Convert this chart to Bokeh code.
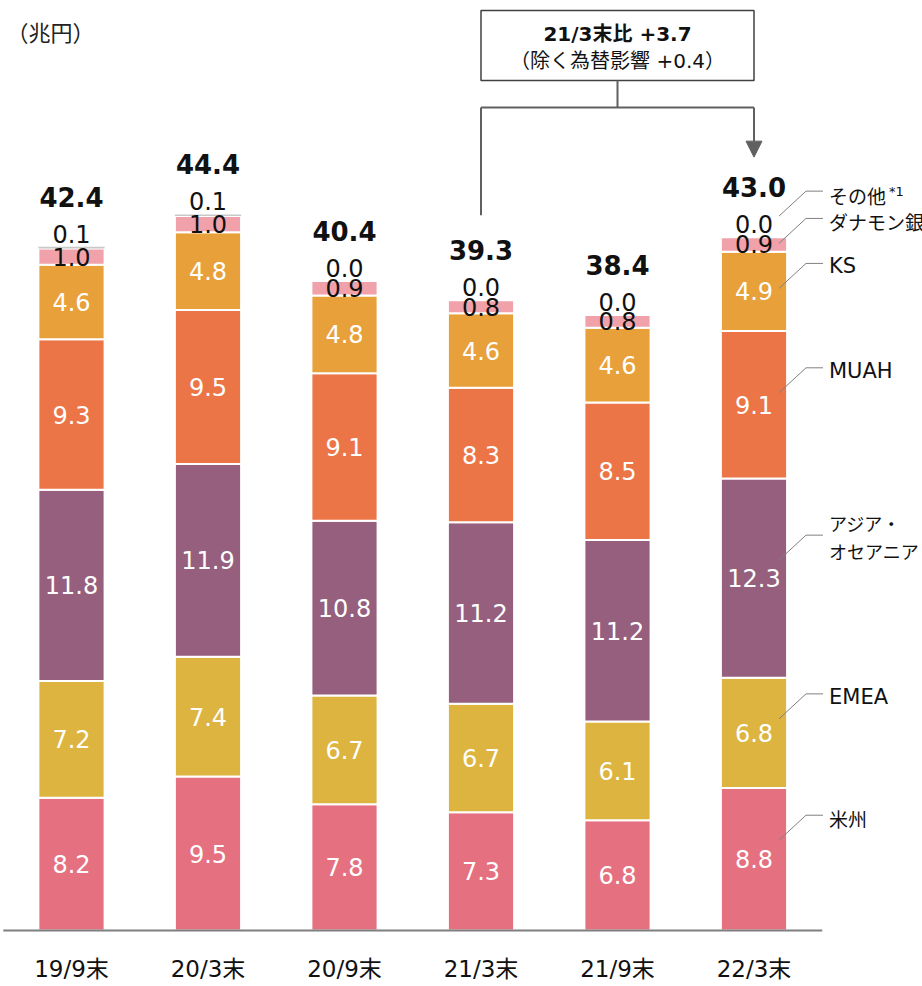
from bokeh.plotting import figure
from bokeh.models import Range1d, Arrow, NormalHead
from bokeh.core.properties import value
from bokeh.embed import file_html
from bokeh.resources import INLINE

# ---------------- data ----------------
categories = ["19/9末", "20/3末", "20/9末", "21/3末", "21/9末", "22/3末"]
americas = [8.2, 9.5, 7.8, 7.3, 6.8, 8.8]
emea = [7.2, 7.4, 6.7, 6.7, 6.1, 6.8]
asia = [11.8, 11.9, 10.8, 11.2, 11.2, 12.3]
muah = [9.3, 9.5, 9.1, 8.3, 8.5, 9.1]
ks = [4.6, 4.8, 4.8, 4.6, 4.6, 4.9]
danamon = [1.0, 1.0, 0.9, 0.8, 0.8, 0.9]
other = [0.1, 0.1, 0.0, 0.0, 0.0, 0.0]
totals = [42.4, 44.4, 40.4, 39.3, 38.4, 43.0]
series_names = ["米州", "EMEA", "アジア・\nオセアニア", "MUAH", "KS", "ダナモン銀行", "その他"]
fx_excluded_change = 0.4
unit_label = "（兆円）"

series = [americas, emea, asia, muah, ks, danamon, other]
colors = ["#E57080", "#DDB440", "#955F7D", "#EC7547", "#E8A03A", "#F0A1AA", "#C8C8C8"]

# ---------------- layout helpers ----------------
W, H = 922, 986
UX = 136.5            # px per category unit
UY = 16.2             # px per 1 trillion yen
X0_PX, Y0_PX = 71, 930
def dy(px):
    return px / UY
def dx(px):
    return px / UX
def y_from_top(px):
    return (Y0_PX - px) / UY

p = figure(width=W, height=H, output_backend="svg", toolbar_location=None,
           x_range=Range1d(-X0_PX / UX, (W - X0_PX) / UX),
           y_range=Range1d(-(H - Y0_PX) / UY, Y0_PX / UY),
           min_border=0, outline_line_color=None, background_fill_color="white")
p.axis.visible = False
p.grid.visible = False

xs = list(range(len(categories)))
NUM_FONT = value("DejaVu Sans")
JP_FONT = value("Noto Sans CJK JP")
MIX_FONT = value("DejaVu Sans, Noto Sans CJK JP")
BAR_W = 0.485

# stacked bars
bottoms = [0.0] * len(xs)
seg_info = []
for si, (vals, col) in enumerate(zip(series, colors)):
    tops = [b + v for b, v in zip(bottoms, vals)]
    if si == len(series) - 1:
        p.vbar(x=xs, bottom=bottoms, top=tops, width=BAR_W, fill_color=col, line_color=None)
    else:
        p.vbar(x=xs, bottom=bottoms, top=tops, width=BAR_W, fill_color=col,
               line_color="white", line_width=2)
    seg_info.append((list(bottoms), tops))
    bottoms = tops
stack_top = bottoms

# segment labels
for si, vals in enumerate(series[:5]):
    b, t = seg_info[si]
    p.text(x=xs, y=[(bb + tt) / 2 for bb, tt in zip(b, t)], text=[f"{v:.1f}" for v in vals],
           text_color="white", text_font=NUM_FONT, text_font_size="24px",
           text_align="center", text_baseline="middle")
b, t = seg_info[5]
p.text(x=xs, y=[(bb + tt) / 2 for bb, tt in zip(b, t)], text=[f"{v:.1f}" for v in danamon],
       text_color="#111111", text_font=NUM_FONT, text_font_size="24px",
       text_align="center", text_baseline="middle")
p.text(x=xs, y=stack_top, y_offset=-13, text=[f"{v:.1f}" for v in other],
       text_color="#111111", text_font=NUM_FONT, text_font_size="24px",
       text_align="center", text_baseline="middle")
p.text(x=xs, y=stack_top, y_offset=-50, text=[f"{v:.1f}" for v in totals],
       text_color="#111111", text_font=NUM_FONT, text_font_size="26px", text_font_style="bold",
       text_align="center", text_baseline="middle")

# baseline axis
p.segment(x0=[-0.5], y0=[0], x1=[len(xs) - 0.5], y1=[0], line_color="#7F7F7F", line_width=2)

# category labels
p.text(x=xs, y=[0] * len(xs), y_offset=38, text=categories, text_color="#111111",
       text_font=MIX_FONT, text_font_size="23px", text_align="center", text_baseline="middle")

# unit label
p.text(x=[dx(6 - X0_PX)], y=[y_from_top(30)], text=[unit_label], text_color="#222222",
       text_font=JP_FONT, text_font_size="22px", text_align="left", text_baseline="middle")

# right-side series labels with leader lines (for the last bar)
li = len(xs) - 1
start_off_px = [19, 14, 18, 12, 3, 1, 21]
lx, ly = [], []
for si in range(len(series)):
    b, t = seg_info[si]
    if si == len(series) - 1:
        anchor = stack_top[li]
    else:
        anchor = (b[li] + t[li]) / 2
    y_start = anchor + dy(start_off_px[si])
    y_elbow = y_start + dy(25)
    lx.append([li + dx(25), li + dx(52), li + dx(69)])
    ly.append([y_start, y_elbow, y_elbow])
    name = series_names[si]
    tx = li + dx(75)
    is_latin = name.isascii()
    font = NUM_FONT if is_latin else JP_FONT
    size = "21px" if is_latin else "19px"
    if "\n" in name:
        l1, l2 = name.split("\n")
        p.text(x=[tx], y=[y_elbow], y_offset=-12, text=[l1], text_font=font, text_font_size="18px",
               text_color="#111111", text_baseline="middle")
        p.text(x=[tx], y=[y_elbow], y_offset=16, text=[l2], text_font=font, text_font_size="18px",
               text_color="#111111", text_baseline="middle")
    elif si == len(series) - 1:
        p.text(x=[tx], y=[y_elbow], y_offset=4, text=[name], text_font=font, text_font_size=size,
               text_color="#111111", text_baseline="middle")
        p.text(x=[tx + dx(60)], y=[y_elbow], y_offset=0, text=["*1"], text_font=NUM_FONT,
               text_font_size="13px", text_color="#111111", text_baseline="middle")
    else:
        p.text(x=[tx], y=[y_elbow], y_offset=3, text=[name], text_font=font, text_font_size=size,
               text_color="#111111", text_baseline="middle")
p.multi_line(xs=lx, ys=ly, line_color="#808080", line_width=1)

# change annotation box (21/3末 -> 22/3末)
i_from, i_to = 3, 5
change = totals[i_to] - totals[i_from]
box_top, box_bot = y_from_top(10), y_from_top(80)
p.quad(left=[i_from], right=[i_to], top=[box_top], bottom=[box_bot],
       fill_color="white", line_color="#404040", line_width=1.5)
mid = (i_from + i_to) / 2
p.text(x=[mid], y=[y_from_top(33)], text=[f"{categories[i_from]}比 +{change:.1f}"],
       text_font=MIX_FONT, text_font_size="20px", text_font_style="bold",
       text_color="#111111", text_align="center", text_baseline="middle")
p.text(x=[mid], y=[y_from_top(60)], text=[f"（除く為替影響 +{fx_excluded_change:.1f}）"],
       text_font=MIX_FONT, text_font_size="20px",
       text_color="#111111", text_align="center", text_baseline="middle")
bracket_y = y_from_top(107)
p.multi_line(xs=[[mid, mid], [i_from, i_to], [i_from, i_from]],
             ys=[[box_bot, bracket_y], [bracket_y, bracket_y],
                 [bracket_y, stack_top[i_from] + dy(85)]],
             line_color="#606060", line_width=2)
p.add_layout(Arrow(end=NormalHead(size=16, fill_color="#606060", line_color="#606060"),
                   x_start=i_to, y_start=bracket_y, x_end=i_to, y_end=stack_top[i_to] + dy(80),
                   line_color="#606060", line_width=2))

open("out.html", "w").write(file_html(p, INLINE))
